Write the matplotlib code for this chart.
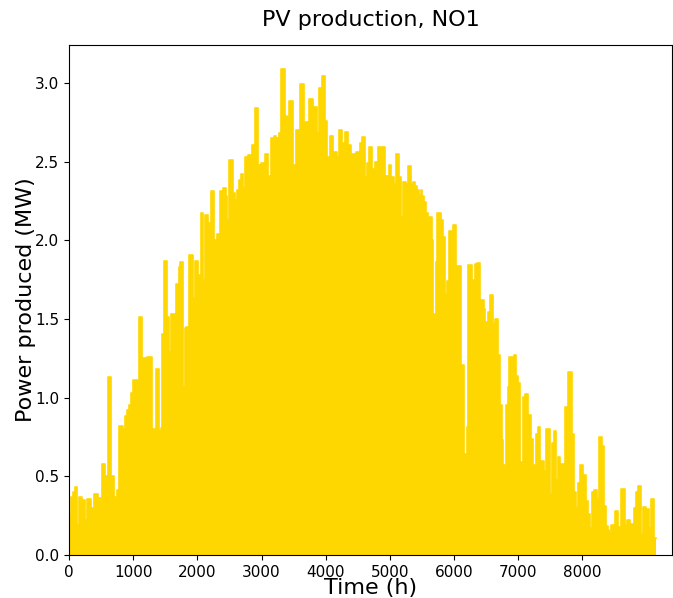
import matplotlib
matplotlib.use("Agg")
import matplotlib.pyplot as plt
import numpy as np

# Start hour of each step of the daily peak outline, and the peak power (MW)
hours = [0, 37, 63, 89, 130, 156, 198, 255, 275, 348, 364, 395, 447, 467, 519, 561, 587, 607, 654, 701,
         732, 747, 779, 846, 872, 898, 929, 971, 991, 1085, 1140, 1160, 1202, 1223, 1287, 1308, 1349, 1401,
         1432, 1448, 1474, 1526, 1557, 1593, 1661, 1707, 1733, 1780, 1801, 1827, 1868, 1930, 1956, 2003,
         2034, 2050, 2096, 2122, 2169, 2211, 2262, 2294, 2314, 2356, 2397, 2439, 2470, 2501, 2553, 2594,
         2615, 2646, 2677, 2719, 2750, 2792, 2838, 2859, 2895, 2942, 2973, 2989, 3035, 3062, 3103, 3139,
         3155, 3191, 3228, 3259, 3274, 3311, 3362, 3404, 3435, 3487, 3539, 3580, 3606, 3660, 3725, 3746,
         3798, 3819, 3871, 3891, 3943, 3985, 4026, 4037, 4068, 4109, 4130, 4172, 4203, 4255, 4286, 4307,
         4348, 4400, 4452, 4473, 4525, 4540, 4566, 4618, 4649, 4680, 4722, 4763, 4794, 4815, 4919, 4940,
         4981, 5022, 5069, 5095, 5147, 5178, 5209, 5251, 5282, 5334, 5355, 5386, 5417, 5448, 5479, 5500,
         5531, 5562, 5593, 5656, 5676, 5718, 5739, 5790, 5821, 5853, 5873, 5894, 5925, 5977, 6029, 6107,
         6150, 6174, 6195, 6221, 6278, 6319, 6351, 6403, 6423, 6465, 6486, 6527, 6558, 6600, 6631, 6683,
         6714, 6745, 6766, 6787, 6807, 6838, 6859, 6932, 6963, 6994, 7025, 7046, 7067, 7108, 7160, 7201,
         7233, 7274, 7305, 7346, 7398, 7419, 7440, 7502, 7523, 7554, 7596, 7617, 7648, 7710, 7731, 7783,
         7834, 7866, 7907, 7928, 7969, 8011, 8053, 8094, 8125, 8146, 8187, 8229, 8260, 8312, 8343, 8364,
         8395, 8416, 8450, 8504, 8560, 8604, 8659, 8692, 8748, 8803, 8837, 8859, 8914, 8947, 8991, 9036,
         9069, 9120]
peaks = [0.25, 0.37, 0.40, 0.43, 0.19, 0.37, 0.35, 0.22, 0.355, 0.26, 0.30, 0.39, 0.25, 0.36, 0.58, 0.50,
         0.34, 1.13, 0.50, 0.37, 0.30, 0.41, 0.82, 0.80, 0.885, 0.92, 0.95, 1.03, 1.11, 1.51, 0.90, 1.25,
         1.00, 1.26, 0.69, 0.80, 1.18, 0.785, 0.81, 1.405, 1.87, 1.51, 1.29, 1.53, 1.72, 1.83, 1.86, 1.07,
         1.44, 1.45, 1.905, 1.63, 1.87, 1.78, 0.85, 2.17, 1.745, 2.16, 2.11, 2.31, 2.00, 1.94, 2.04, 2.31,
         2.33, 2.28, 2.13, 2.51, 2.30, 2.255, 2.32, 2.38, 2.42, 2.33, 2.53, 2.54, 2.17, 2.605, 2.84, 2.48,
         2.06, 2.49, 2.38, 2.545, 2.41, 1.70, 2.65, 2.66, 2.65, 1.94, 2.68, 3.09, 2.79, 2.785, 2.885, 2.48,
         2.70, 2.49, 2.99, 2.75, 2.68, 2.90, 2.82, 2.845, 2.68, 2.97, 3.045, 2.76, 1.94, 2.53, 2.66, 2.21,
         2.56, 2.53, 2.70, 2.615, 2.54, 2.69, 2.605, 2.545, 2.45, 2.56, 1.97, 2.62, 2.655, 2.40, 2.49, 2.59,
         2.45, 2.50, 2.47, 2.595, 2.17, 2.41, 2.48, 2.40, 2.36, 2.545, 2.40, 2.15, 2.37, 2.355, 2.47, 2.36,
         2.37, 2.345, 2.32, 2.29, 2.32, 2.28, 2.24, 2.17, 2.15, 2.00, 1.53, 1.86, 2.175, 2.13, 2.02, 1.395,
         1.66, 1.74, 2.06, 2.095, 1.835, 1.21, 0.62, 0.64, 0.815, 1.84, 1.75, 1.85, 1.855, 1.515, 1.62,
         1.56, 1.48, 1.545, 1.65, 1.47, 1.50, 1.27, 0.955, 0.73, 0.57, 0.44, 0.955, 1.07, 1.26, 1.27, 1.14,
         1.09, 0.56, 0.59, 1.005, 1.02, 0.89, 0.74, 0.57, 0.77, 0.815, 0.595, 0.365, 0.535, 0.80, 0.385,
         0.71, 0.785, 0.475, 0.625, 0.58, 0.28, 0.94, 1.16, 0.77, 0.40, 0.30, 0.455, 0.57, 0.51, 0.34, 0.26,
         0.17, 0.40, 0.41, 0.355, 0.75, 0.69, 0.31, 0.185, 0.16, 0.145, 0.19, 0.28, 0.18, 0.42, 0.19, 0.22,
         0.20, 0.30, 0.40, 0.44, 0.136, 0.305, 0.29, 0.17, 0.356, 0.11]
end_hour = 9140

x_ticks = [0, 1000, 2000, 3000, 4000, 5000, 6000, 7000, 8000]
y_ticks = [0.0, 0.5, 1.0, 1.5, 2.0, 2.5, 3.0]

xs = np.array(hours + [end_hour], dtype=float)
ys = np.array(peaks + [peaks[-1]], dtype=float)

fig = plt.figure(figsize=(6.73, 5.98), dpi=100)
ax = fig.add_axes([0.1025, 0.0719, 0.896, 0.8528])
ax.fill_between(xs, ys, step='post', color='gold', linewidth=0)
ax.step(xs, ys, where='post', color='gold', linewidth=1.2)

ax.set_xlim(0, 9396)
ax.set_ylim(0, 3.24)
ax.set_xticks(x_ticks)
ax.set_yticks(y_ticks)
ax.tick_params(labelsize=11)
ax.set_title('PV production, NO1', fontsize=16, pad=14)
ax.set_xlabel('Time (h)', fontsize=16, labelpad=-1)
ax.set_ylabel('Power produced (MW)', fontsize=16, labelpad=-1)

fig.savefig('out.png', dpi=100)
